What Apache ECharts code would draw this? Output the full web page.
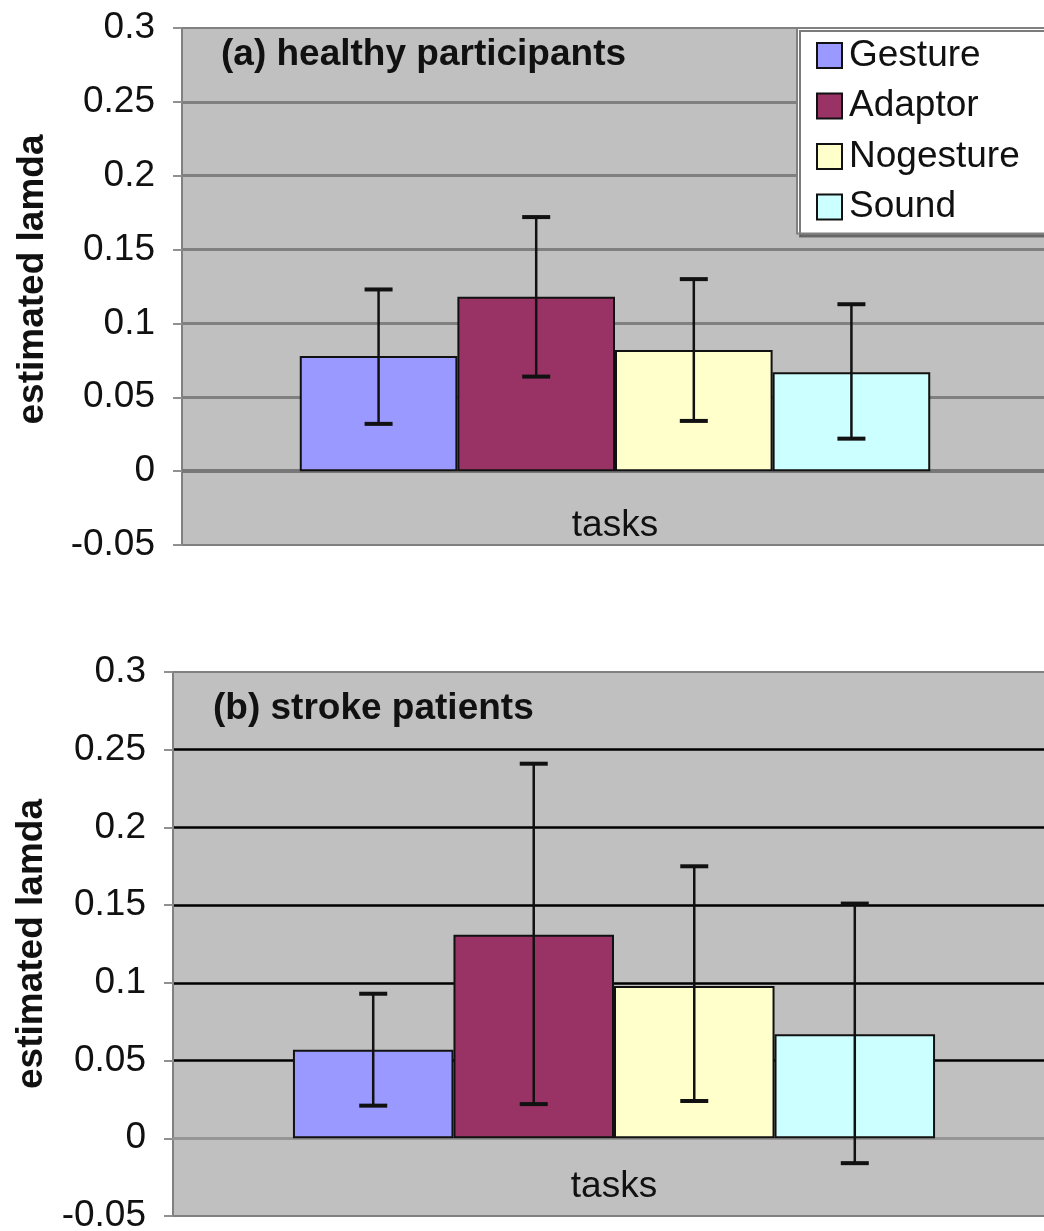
<!DOCTYPE html>
<html><head><meta charset="utf-8">
<script src="https://cdn.jsdelivr.net/npm/echarts@6/dist/echarts.min.js"></script>
<style>html,body{margin:0;padding:0;background:#fff}#c{width:1044px;height:1231px}</style>
</head><body><div id="c"></div>
<script>
const categories = ['tasks'];
const seriesNames = ['Gesture', 'Adaptor', 'Nogesture', 'Sound'];
const healthyMean = [0.078, 0.118, 0.082, 0.067];
const healthyLow  = [0.032, 0.064, 0.034, 0.022];
const healthyHigh = [0.123, 0.172, 0.130, 0.113];
const strokeMean  = [0.057, 0.131, 0.098, 0.067];
const strokeLow   = [0.021, 0.022, 0.024, -0.016];
const strokeHigh  = [0.093, 0.241, 0.175, 0.151];
const panelTitles = ['(a) healthy participants', '(b) stroke patients'];
const axisTitle = 'estimated lamda';

const FONT = 'Liberation Sans, Arial, sans-serif';
const colors = ['#9999FF', '#993366', '#FFFFCC', '#CCFFFF'];
const GAP = 0.272;

const panels = [
  {mean: healthyMean, low: healthyLow, high: healthyHigh, grid: {left: 182, top: 28, width: 866, height: 517},
   split: '#808080', splitW: 3, zeroColor: '#777777', zeroW: 4, labelMargin: -38, nameGap: 131, namePad: [0, 0, 0, 14]},
  {mean: strokeMean, low: strokeLow, high: strokeHigh, grid: {left: 173, top: 672, width: 882, height: 544},
   split: '#000000', splitW: 2.5, zeroColor: '#959595', zeroW: 3, labelMargin: -48, nameGap: 123, namePad: [0, 0, 0, 0]}
];

function errRender(params, api) {
  const k = api.value(1);
  const lo = api.coord([api.value(0), api.value(2)]);
  const hi = api.coord([api.value(0), api.value(3)]);
  const band = api.size([1, 0])[0];
  const bw = band * (1 - GAP) / 4;
  const x = lo[0] + (k - 1.5) * bw;
  const cap = 14;
  const st = {stroke: '#111', lineWidth: 2.5};
  const cs = {stroke: '#111', lineWidth: 4};
  return {type: 'group', children: [
    {type: 'line', shape: {x1: x, y1: hi[1], x2: x, y2: lo[1]}, style: st},
    {type: 'line', shape: {x1: x - cap, y1: hi[1], x2: x + cap, y2: hi[1]}, style: cs},
    {type: 'line', shape: {x1: x - cap, y1: lo[1], x2: x + cap, y2: lo[1]}, style: cs}
  ]};
}

const grids = [], xAxes = [], yAxes = [], series = [];
panels.forEach((p, gi) => {
  grids.push(Object.assign({show: true, backgroundColor: '#C0C0C0', borderColor: '#808080', borderWidth: 2,
    outerBoundsMode: 'none', containLabel: false}, p.grid));
  xAxes.push({
    type: 'category', gridIndex: gi, data: categories,
    axisLine: {show: false, onZero: false},
    axisTick: {show: false},
    axisLabel: {fontSize: 37, color: '#111', fontFamily: FONT, margin: p.labelMargin},
    splitLine: {show: false}
  });
  yAxes.push({
    type: 'value', gridIndex: gi, min: -0.05, max: 0.3, interval: 0.05,
    name: axisTitle, nameLocation: 'middle', nameRotate: 90, nameGap: p.nameGap,
    nameTextStyle: {fontSize: 37, fontWeight: 'bold', color: '#111', fontFamily: FONT, padding: p.namePad},
    axisLine: {show: true, lineStyle: {color: '#808080', width: 2}},
    axisTick: {show: true, length: 9, lineStyle: {color: '#909090', width: 2}},
    axisLabel: {fontSize: 37, color: '#111', fontFamily: FONT, margin: 27},
    splitLine: {show: true, showMinLine: false, showMaxLine: false, lineStyle: {color: p.split, width: p.splitW}}
  });
  seriesNames.forEach((n, i) => {
    const s = {
      type: 'bar', name: n, xAxisIndex: gi, yAxisIndex: gi,
      data: [p.mean[i]],
      barGap: '0%', barCategoryGap: (GAP * 100) + '%',
      itemStyle: {color: colors[i], borderColor: '#111', borderWidth: 2},
      emphasis: {disabled: true}, z: 3
    };
    if (i === 0) {
      s.markLine = {
        silent: true, symbol: 'none', animation: false, z: 2,
        label: {show: false},
        lineStyle: {color: p.zeroColor, width: p.zeroW, type: 'solid'},
        emphasis: {disabled: true},
        data: [{yAxis: 0}]
      };
    }
    series.push(s);
  });
  series.push({
    type: 'custom', name: 'err' + gi, xAxisIndex: gi, yAxisIndex: gi,
    data: seriesNames.map((n, i) => [0, i, p.low[i], p.high[i]]),
    encode: {x: 0, y: [2, 3]},
    renderItem: errRender, z: 5, silent: true
  });
});

const chart = echarts.init(document.getElementById('c'), null, {renderer: 'canvas'});
chart.setOption({
  animation: false,
  backgroundColor: '#ffffff',
  title: [
    {text: panelTitles[0], left: 221, top: 36, padding: 0,
     textStyle: {fontSize: 37, fontWeight: 'bold', color: '#111', fontFamily: FONT}},
    {text: panelTitles[1], left: 213, top: 690, padding: 0,
     textStyle: {fontSize: 37, fontWeight: 'bold', color: '#111', fontFamily: FONT}}
  ],
  legend: {
    data: seriesNames, orient: 'vertical', left: 797, top: 28,
    backgroundColor: '#ffffff', borderColor: '#808080', borderWidth: 2,
    shadowColor: 'rgba(90,90,90,0.8)', shadowOffsetX: 3, shadowOffsetY: 3, shadowBlur: 0,
    padding: [9, 40, 8, 19], itemGap: 13.5, itemWidth: 25, itemHeight: 25, icon: 'rect',
    textStyle: {fontSize: 37, color: '#111', fontFamily: FONT, padding: [0, 0, 0, 2]},
    selectedMode: false
  },
  grid: grids, xAxis: xAxes, yAxis: yAxes, series: series
});
</script></body></html>
